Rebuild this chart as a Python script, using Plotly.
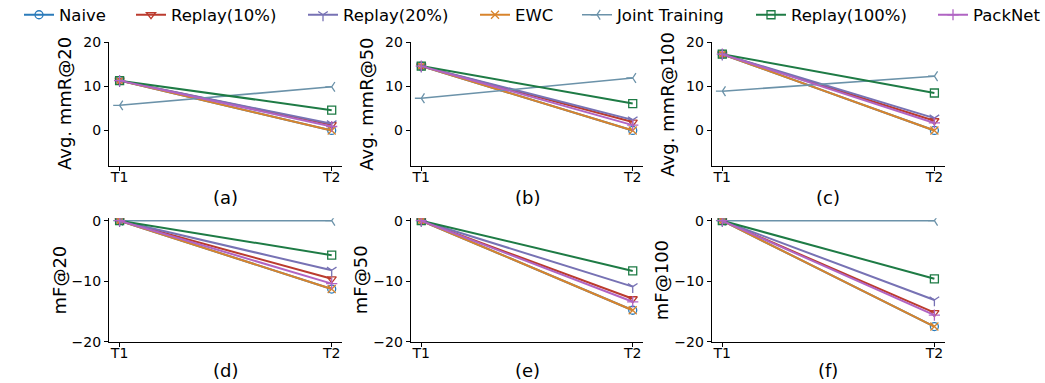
import plotly.graph_objects as go

# ---- data -------------------------------------------------------------
stages = ["T1", "T2"]
methods = ["Naive", "Replay(10%)", "Replay(20%)", "EWC",
           "Joint Training", "Replay(100%)", "PackNet"]

# values per method, in the order of `methods`
mmr20_t1 = [11.3, 11.3, 11.3, 11.3, 5.7, 11.3, 11.3]
mmr20_t2 = [0.0, 1.3, 1.5, 0.0, 9.9, 4.6, 0.9]
mmr50_t1 = [14.6, 14.6, 14.6, 14.6, 7.3, 14.6, 14.6]
mmr50_t2 = [0.0, 1.9, 2.4, 0.0, 11.9, 6.1, 1.2]
mmr100_t1 = [17.3, 17.3, 17.3, 17.3, 8.9, 17.3, 17.3]
mmr100_t2 = [0.0, 2.2, 2.8, 0.0, 12.3, 8.5, 1.7]

mf20_t1 = [0.0, 0.0, 0.0, 0.0, 0.0, 0.0, 0.0]
mf20_t2 = [-11.3, -9.6, -8.2, -11.3, 0.0, -5.7, -10.4]
mf50_t1 = [0.0, 0.0, 0.0, 0.0, None, 0.0, 0.0]
mf50_t2 = [-14.8, -12.9, -10.9, -14.8, None, -8.3, -13.4]
mf100_t1 = [0.0, 0.0, 0.0, 0.0, 0.0, 0.0, 0.0]
mf100_t2 = [-17.5, -15.2, -13.1, -17.5, 0.0, -9.6, -15.6]

panels = [
    ("Avg. mmR@20", "(a)", mmr20_t1, mmr20_t2),
    ("Avg. mmR@50", "(b)", mmr50_t1, mmr50_t2),
    ("Avg. mmR@100", "(c)", mmr100_t1, mmr100_t2),
    ("mF@20", "(d)", mf20_t1, mf20_t2),
    ("mF@50", "(e)", mf50_t1, mf50_t2),
    ("mF@100", "(f)", mf100_t1, mf100_t2),
]

# ---- styling ----------------------------------------------------------
colors = ["#2b7bba", "#bb3b2e", "#7772b4", "#d8842c",
          "#6b92a9", "#1e7b45", "#b064c3"]
symbols = ["circle-open", "triangle-down-open", "y-down-open", "x-thin-open",
           "y-left-open", "square-open", "cross-thin-open"]
line_widths = [2, 2, 2, 2, 1.6, 2, 2]
legend_text_px = [59, 171, 343, 515, 617, 791, 973]

W, H = 1045, 383
FONT = "DejaVu Sans"
x_domains = [(109, 342.3), (410.7, 643.3), (711.7, 945)]
y_domains = [(42.3, 165.7), (218.3, 341.7)]  # pixel rows, top to bottom
y_ranges = [(-8, 20), (-20, 0.4)]
y_ticks = [[0, 10, 20], [-20, -10, 0]]
ytitle_offset = [45, 50.5]      # px left of the y axis line

fig = go.Figure()
annotations = []
layout = dict(
    width=W, height=H,
    margin=dict(l=0, r=0, t=0, b=0, autoexpand=False),
    paper_bgcolor="white", plot_bgcolor="white",
    font=dict(family=FONT, color="black"),
    showlegend=True,
)

for p, (ytitle, xtitle, t1, t2) in enumerate(panels):
    row, col = divmod(p, 3)
    n = p + 1
    xa = "x" if n == 1 else f"x{n}"
    ya = "y" if n == 1 else f"y{n}"
    for m, name in enumerate(methods):
        if t1[m] is None:
            continue
        fig.add_trace(go.Scatter(
            x=[0, 1], y=[t1[m], t2[m]],
            mode="lines+markers", name=name,
            line=dict(color=colors[m], width=line_widths[m]),
            marker=dict(symbol=symbols[m], size=8, color=colors[m],
                        line=dict(width=1.3, color=colors[m])),
            xaxis=xa, yaxis=ya,
            showlegend=(p == 0),
            legend="legend" if m == 0 else f"legend{m + 1}",
        ))
    x0, x1 = x_domains[col]
    y0, y1 = y_domains[row]
    axis_common = dict(
        showline=True, linecolor="black", linewidth=1.1,
        ticks="outside", ticklen=4, tickwidth=1.1, tickcolor="black",
        showgrid=False, zeroline=False, automargin=False,
        tickfont=dict(family=FONT, size=14, color="black"),
    )
    layout["xaxis" if n == 1 else f"xaxis{n}"] = dict(
        domain=[x0 / W, x1 / W], range=[-0.05, 1.05],
        tickvals=[0, 1], ticktext=stages, ticklabelstandoff=-6,
        anchor=ya, **axis_common,
    )
    layout["yaxis" if n == 1 else f"yaxis{n}"] = dict(
        domain=[1 - y1 / H, 1 - y0 / H], range=list(y_ranges[row]),
        tickvals=y_ticks[row], anchor=xa, **axis_common,
    )
    # panel caption under the x axis
    if row == 0:
        cap_pos = dict(y=1 - 197.7 / H, yanchor="middle")
    else:
        cap_pos = dict(y=0, yanchor="bottom")
    annotations.append(dict(
        text=xtitle, xref="paper", yref="paper",
        x=(x0 + x1) / 2 / W, xanchor="center", showarrow=False,
        font=dict(family=FONT, size=18, color="black"), **cap_pos,
    ))
    # metric name along the y axis
    annotations.append(dict(
        text=ytitle, xref="paper", yref="paper", textangle=-90,
        x=(x0 - ytitle_offset[row]) / W, y=1 - (y0 + y1) / 2 / H,
        xanchor="center", yanchor="middle", showarrow=False,
        font=dict(family=FONT, size=18, color="black"),
    ))

# one single-entry legend per method, laid out in a row across the top
for m in range(len(methods)):
    key = "legend" if m == 0 else f"legend{m + 1}"
    layout[key] = dict(
        x=(legend_text_px[m] - 40) / W, xanchor="left",
        y=1 - 15 / H, yanchor="middle",
        orientation="h", bgcolor="rgba(0,0,0,0)",
        font=dict(family=FONT, size=16.5, color="black"),
    )

layout["annotations"] = annotations
fig.update_layout(**layout)
fig.write_html("out.html")
